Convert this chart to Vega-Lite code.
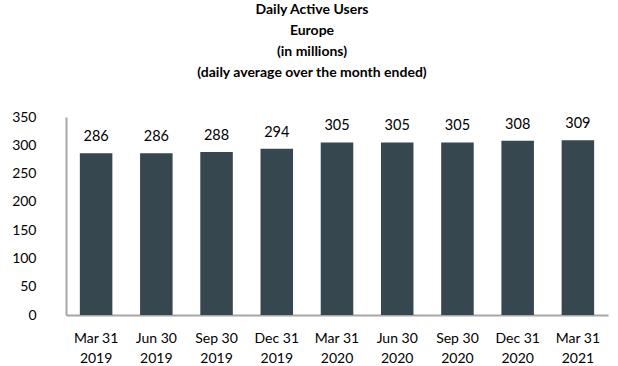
{
  "$schema": "https://vega.github.io/schema/vega-lite/v6.json",
  "width": 542,
  "height": 198,
  "autosize": {"type": "none"},
  "padding": {"left": 66, "top": 117, "right": 10, "bottom": 51},
  "background": "white",
  "title": {
    "text": ["Daily Active Users", "Europe", "(in millions)", "(daily average over the month ended)"],
    "fontSize": 14,
    "fontWeight": "bold",
    "font": "Lato",
    "lineHeight": 21,
    "color": "#000000",
    "anchor": "middle",
    "dx": -25,
    "offset": 30
  },
  "data": {
    "values": [
      {"period": "Mar 31|2019", "users": 286},
      {"period": "Jun 30|2019", "users": 286},
      {"period": "Sep 30|2019", "users": 288},
      {"period": "Dec 31|2019", "users": 294},
      {"period": "Mar 31|2020", "users": 305},
      {"period": "Jun 30|2020", "users": 305},
      {"period": "Sep 30|2020", "users": 305},
      {"period": "Dec 31|2020", "users": 308},
      {"period": "Mar 31|2021", "users": 309}
    ]
  },
  "encoding": {
    "x": {
      "field": "period",
      "type": "ordinal",
      "sort": null,
      "scale": {"paddingInner": 0.46, "paddingOuter": 0.23},
      "axis": {
        "title": null,
        "labelAngle": 0,
        "labelExpr": "split(datum.label, '|')",
        "labelFont": "Lato",
        "labelFontSize": 14,
        "labelColor": "#000000",
        "labelLineHeight": 20,
        "labelPadding": 16,
        "ticks": false,
        "domainColor": "#a6a6a6",
        "domainWidth": 2
      }
    },
    "y": {
      "field": "users",
      "type": "quantitative",
      "scale": {"domain": [0, 350]},
      "axis": {
        "title": null,
        "values": [0, 50, 100, 150, 200, 250, 300, 350],
        "grid": false,
        "ticks": false,
        "labelFont": "Lato",
        "labelFontSize": 14,
        "labelColor": "#000000",
        "labelPadding": 30,
        "domainColor": "#a6a6a6",
        "domainWidth": 2
      }
    }
  },
  "layer": [
    {"mark": {"type": "bar", "color": "#36474f"}},
    {
      "mark": {"type": "text", "dy": -16, "font": "Lato", "fontSize": 14.5, "color": "#000000"},
      "encoding": {"text": {"field": "users", "type": "quantitative"}}
    }
  ],
  "config": {"view": {"stroke": null}}
}
